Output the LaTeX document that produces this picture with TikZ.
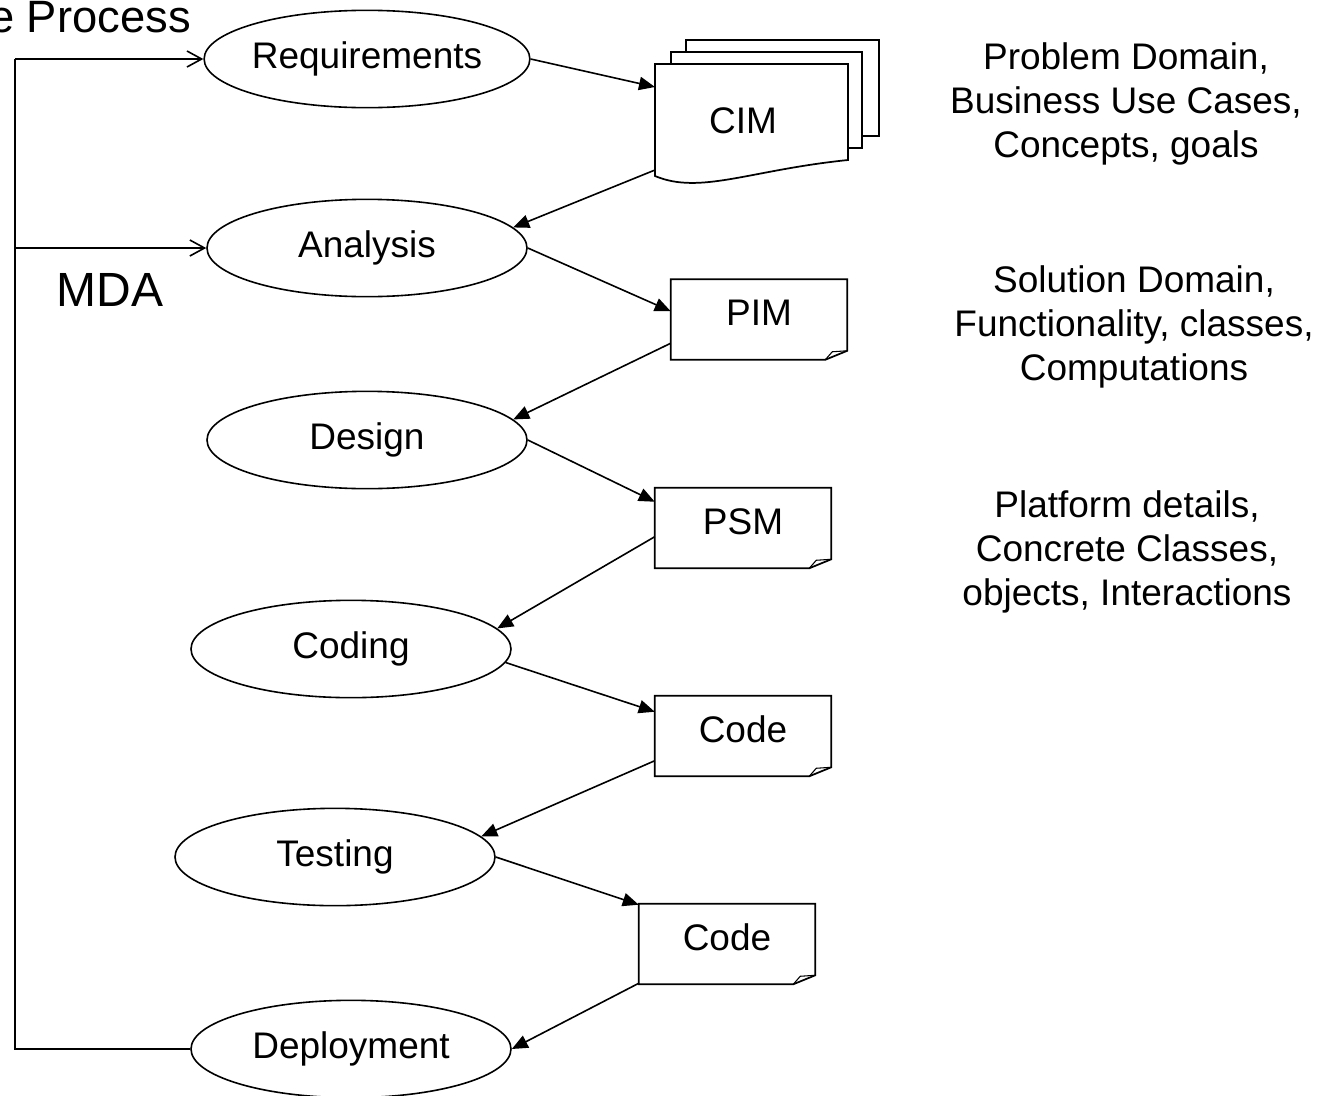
\documentclass[tikz,border=0pt]{standalone}
\usepackage{fontspec}
\setmainfont{Liberation Sans}
\usetikzlibrary{shapes.geometric,arrows.meta,calc}
\newcommand{\txtsize}{\fontsize{27.75}{33}\selectfont}
\newcommand{\bigsize}{\fontsize{36}{42}\selectfont}
\newcommand{\foldbox}[1]{%
    \draw[line width=1.3pt] (#1.north west) -- (#1.north east) -- ($(#1.south east)+(0,-9)$)
        -- ($(#1.south east)+(-22,0)$) -- (#1.south west) -- cycle;
    \draw[line width=0.8pt] ($(#1.south east)+(-22,0)$) -- ($(#1.south east)+(-15,-8)$) -- ($(#1.south east)+(0,-9)$);}
\tikzset{
    phase/.style={draw, ellipse, line width=1.2pt, minimum width=240pt, minimum height=73pt, inner sep=0pt, font=\txtsize},
    model/.style={minimum width=132pt, minimum height=60pt, inner sep=0pt, text depth=10pt, font=\txtsize},
    flow/.style={-{Triangle[length=12pt,width=10pt]}, line width=1.2pt},
    back/.style={-{Straight Barb[length=11pt,width=12pt]}, line width=1.2pt},
    note/.style={align=center, font=\txtsize}
}

\begin{document}
\begin{tikzpicture}[x=0.75pt, y=-0.75pt]
    \useasboundingbox (0,0) rectangle (1332,1096);

    \node[phase] (req) at (367,59) {Requirements};
    \node[phase] (ana) at (367,248) {Analysis};
    \node[phase] (des) at (367,440) {Design};
    \node[phase] (cod) at (351,649) {Coding};
    \node[phase] (tst) at (335,857) {Testing};
    \node[phase] (dep) at (351,1049) {Deployment};

    \draw[line width=1.3pt, fill=white] (686,40) rectangle (879,136);
    \draw[line width=1.3pt, fill=white] (671,52) rectangle (862,148);
    \draw[line width=1.3pt, fill=white] (655,64) -- (848,64) -- (848,160)
        .. controls (750,170) and (700,195) .. (655,176) -- cycle;
    \node[font=\txtsize, inner sep=0pt] (cim) at (743,121) {CIM};

    \node[model] (pim) at (759,319.5) {PIM};
    \node[model] (psm) at (743,528) {PSM};
    \node[model] (codeA) at (743,736) {Code};
    \node[model] (codeB) at (727,944) {Code};
    \foldbox{pim}
    \foldbox{psm}
    \foldbox{codeA}
    \foldbox{codeB}

    \draw[flow] (req.east) -- ($(cim)+(-88,-34)$);
    \draw[flow] ($(cim)+(-88,49)$) -- (ana.8);
    \draw[flow] (ana.east) -- ($(pim.north west)+(0,32)$);
    \draw[flow] ($(pim.north west)+(0,64)$) -- (des.8);
    \draw[flow] (des.east) -- ($(psm.north west)+(0,14)$);
    \draw[flow] ($(psm.north west)+(0,49)$) -- (cod.8);
    \draw[flow] (cod.-5) -- ($(codeA.north west)+(0,16)$);
    \draw[flow] ($(codeA.north west)+(0,65)$) -- (tst.8);
    \draw[flow] (tst.east) -- ($(codeB.north west)+(0,1)$);
    \draw[flow] ($(codeB.south west)+(0,-1)$) -- (dep.east);

    \coordinate (rail) at (15,59);
    \draw[back] (rail) -- (req.west);
    \draw[back] (rail |- ana.west) -- (ana.west);
    \draw[line width=1.2pt] (dep.west) -| (rail);

    \node[font=\fontsize{34}{40}\selectfont, anchor=base east, inner sep=0pt] (title) at (191,32) {e Process};
    \node[font=\bigsize, inner sep=0pt] (mda) at (110,290) {MDA};

    \node[note] (cimnote) at (1126,104) {Problem Domain,\\Business Use Cases,\\Concepts, goals};
    \node[note] (pimnote) at (1134,327) {Solution Domain,\\Functionality, classes,\\Computations};
    \node[note] (psmnote) at (1127,552) {Platform details,\\Concrete Classes,\\objects, Interactions};
\end{tikzpicture}
\end{document}
